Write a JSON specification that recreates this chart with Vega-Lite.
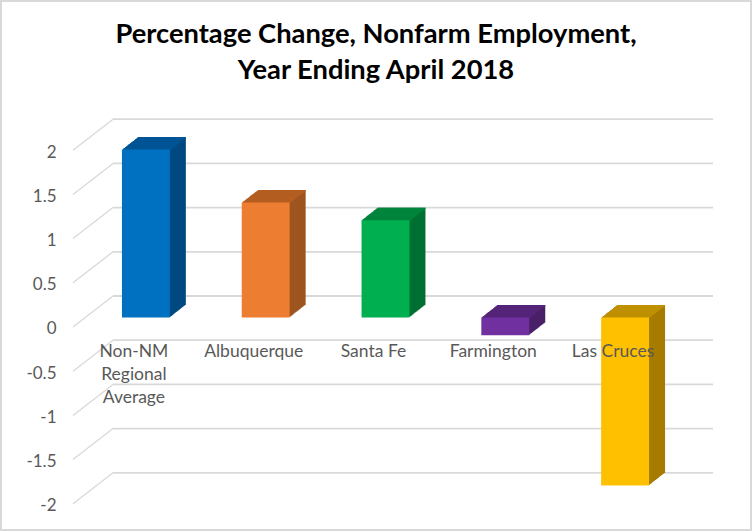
{
"$schema":"https://vega.github.io/schema/vega-lite/v6.json",
"width":752,"height":531,"padding":0,"autosize":{"type":"none"},"background":"white",
"config":{"view":{"stroke":"#d9d9d9","strokeWidth":4},"font":"Lato"},
"title":{"text":["Percentage Change, Nonfarm Employment,","Year Ending April 2018"],"font":"Lato","fontSize":27.3,"fontWeight":"bold","color":"#000000","anchor":"middle","lineHeight":36,"offset":-84},
"datasets":{
"bars":[
{"name":"Non-NM\nRegional\nAverage","value":1.9,"top":1.9},
{"name":"Albuquerque","value":1.3,"top":1.3},
{"name":"Santa Fe","value":1.1,"top":1.1},
{"name":"Farmington","value":-0.2,"top":0},
{"name":"Las Cruces","value":-1.9,"top":0}],
"grid":[{"v":-2},{"v":-1.5},{"v":-1},{"v":-0.5},{"v":0},{"v":0.5},{"v":1},{"v":1.5},{"v":2}]
},
"resolve":{"scale":{"color":"independent"}},
"layer":[
{"data":{"name":"grid"},"mark":{"type":"rule","stroke":"#d9d9d9","strokeWidth":1.8,"yOffset":-21.5},
 "encoding":{"x":{"value":113},"x2":{"value":713},
 "y":{"field":"v","type":"quantitative","title":null,"scale":{"domain":[-2.4152,3.5916],"nice":false,"zero":false},
 "axis":{"orient":"left","offset":-56,"values":[-2,-1.5,-1,-0.5,0,0.5,1,1.5,2],"labelExpr":"''+datum.value","domain":false,"ticks":false,"grid":false,"labelPadding":0,"labelFont":"Lato","labelFontSize":17,"labelColor":"#595959","labelOffset":11.5}}}},
{"data":{"name":"grid"},"mark":{"type":"rule","stroke":"#d9d9d9","strokeWidth":1.3,"yOffset":9.5,"y2Offset":-21.5},
 "encoding":{"x":{"value":73},"x2":{"value":113},"y":{"field":"v","type":"quantitative"},"y2":{"field":"v"}}},
{"data":{"name":"bars"},
 "encoding":{"x":{"field":"name","type":"nominal","sort":null,"title":null,"axis":null,"scale":{"type":"band","range":[86,685],"paddingInner":0.6,"paddingOuter":0.3}},
 "y":{"field":"value","type":"quantitative"},"y2":{"datum":0},
 "color":{"field":"name","type":"nominal","sort":null,"legend":null,"scale":{"range":["#004A80","#9E541F","#006F33","#4A2069","#A67C00"]}}},
 "layer":[
 {"mark":{"type":"bar","xOffset":16,"yOffset":-12.5,"y2Offset":-12.5}},
 {"mark":{"type":"bar","xOffset":15,"yOffset":-11.7,"y2Offset":-11.7}},
 {"mark":{"type":"bar","xOffset":14,"yOffset":-10.9,"y2Offset":-10.9}},
 {"mark":{"type":"bar","xOffset":13,"yOffset":-10.2,"y2Offset":-10.2}},
 {"mark":{"type":"bar","xOffset":12,"yOffset":-9.4,"y2Offset":-9.4}},
 {"mark":{"type":"bar","xOffset":11,"yOffset":-8.6,"y2Offset":-8.6}},
 {"mark":{"type":"bar","xOffset":10,"yOffset":-7.8,"y2Offset":-7.8}},
 {"mark":{"type":"bar","xOffset":9,"yOffset":-7,"y2Offset":-7}},
 {"mark":{"type":"bar","xOffset":8,"yOffset":-6.3,"y2Offset":-6.3}},
 {"mark":{"type":"bar","xOffset":7,"yOffset":-5.5,"y2Offset":-5.5}},
 {"mark":{"type":"bar","xOffset":6,"yOffset":-4.7,"y2Offset":-4.7}},
 {"mark":{"type":"bar","xOffset":5,"yOffset":-3.9,"y2Offset":-3.9}},
 {"mark":{"type":"bar","xOffset":4,"yOffset":-3.1,"y2Offset":-3.1}},
 {"mark":{"type":"bar","xOffset":3,"yOffset":-2.3,"y2Offset":-2.3}},
 {"mark":{"type":"bar","xOffset":2,"yOffset":-1.6,"y2Offset":-1.6}},
 {"mark":{"type":"bar","xOffset":1,"yOffset":-0.8,"y2Offset":-0.8}}
 ]},
{"data":{"name":"bars"},
 "encoding":{"x":{"field":"name","type":"nominal","sort":null},
 "y":{"field":"top","type":"quantitative"},"y2":{"field":"top"},
 "color":{"field":"name","type":"nominal","sort":null,"legend":null,"scale":{"range":["#005596","#B55E22","#00853D","#552478","#BF9000"]}}},
 "layer":[
 {"mark":{"type":"bar","xOffset":16,"yOffset":-12.5,"y2Offset":-11.3}},
 {"mark":{"type":"bar","xOffset":15,"yOffset":-11.7,"y2Offset":-10.5}},
 {"mark":{"type":"bar","xOffset":14,"yOffset":-10.9,"y2Offset":-9.7}},
 {"mark":{"type":"bar","xOffset":13,"yOffset":-10.2,"y2Offset":-9}},
 {"mark":{"type":"bar","xOffset":12,"yOffset":-9.4,"y2Offset":-8.2}},
 {"mark":{"type":"bar","xOffset":11,"yOffset":-8.6,"y2Offset":-7.4}},
 {"mark":{"type":"bar","xOffset":10,"yOffset":-7.8,"y2Offset":-6.6}},
 {"mark":{"type":"bar","xOffset":9,"yOffset":-7,"y2Offset":-5.8}},
 {"mark":{"type":"bar","xOffset":8,"yOffset":-6.3,"y2Offset":-5.1}},
 {"mark":{"type":"bar","xOffset":7,"yOffset":-5.5,"y2Offset":-4.3}},
 {"mark":{"type":"bar","xOffset":6,"yOffset":-4.7,"y2Offset":-3.5}},
 {"mark":{"type":"bar","xOffset":5,"yOffset":-3.9,"y2Offset":-2.7}},
 {"mark":{"type":"bar","xOffset":4,"yOffset":-3.1,"y2Offset":-1.9}},
 {"mark":{"type":"bar","xOffset":3,"yOffset":-2.3,"y2Offset":-1.1}},
 {"mark":{"type":"bar","xOffset":2,"yOffset":-1.6,"y2Offset":-0.4}},
 {"mark":{"type":"bar","xOffset":1,"yOffset":-0.8,"y2Offset":0.4}}
 ]},
{"data":{"name":"bars"},"mark":{"type":"bar"},
 "encoding":{"x":{"field":"name","type":"nominal","sort":null},
 "y":{"field":"value","type":"quantitative"},"y2":{"datum":0},
 "color":{"field":"name","type":"nominal","sort":null,"legend":null,"scale":{"range":["#0070C0","#ED7D31","#00B050","#7030A0","#FFC000"]}}}},
{"data":{"name":"bars"},"mark":{"type":"text","font":"Lato","fontSize":17.5,"color":"#595959","align":"center","baseline":"alphabetic","lineBreak":"\n","lineHeight":23,"xOffset":-12,"yOffset":39.5},
 "encoding":{"x":{"field":"name","type":"nominal","sort":null},"y":{"datum":0},"text":{"field":"name"}}}
]
}
